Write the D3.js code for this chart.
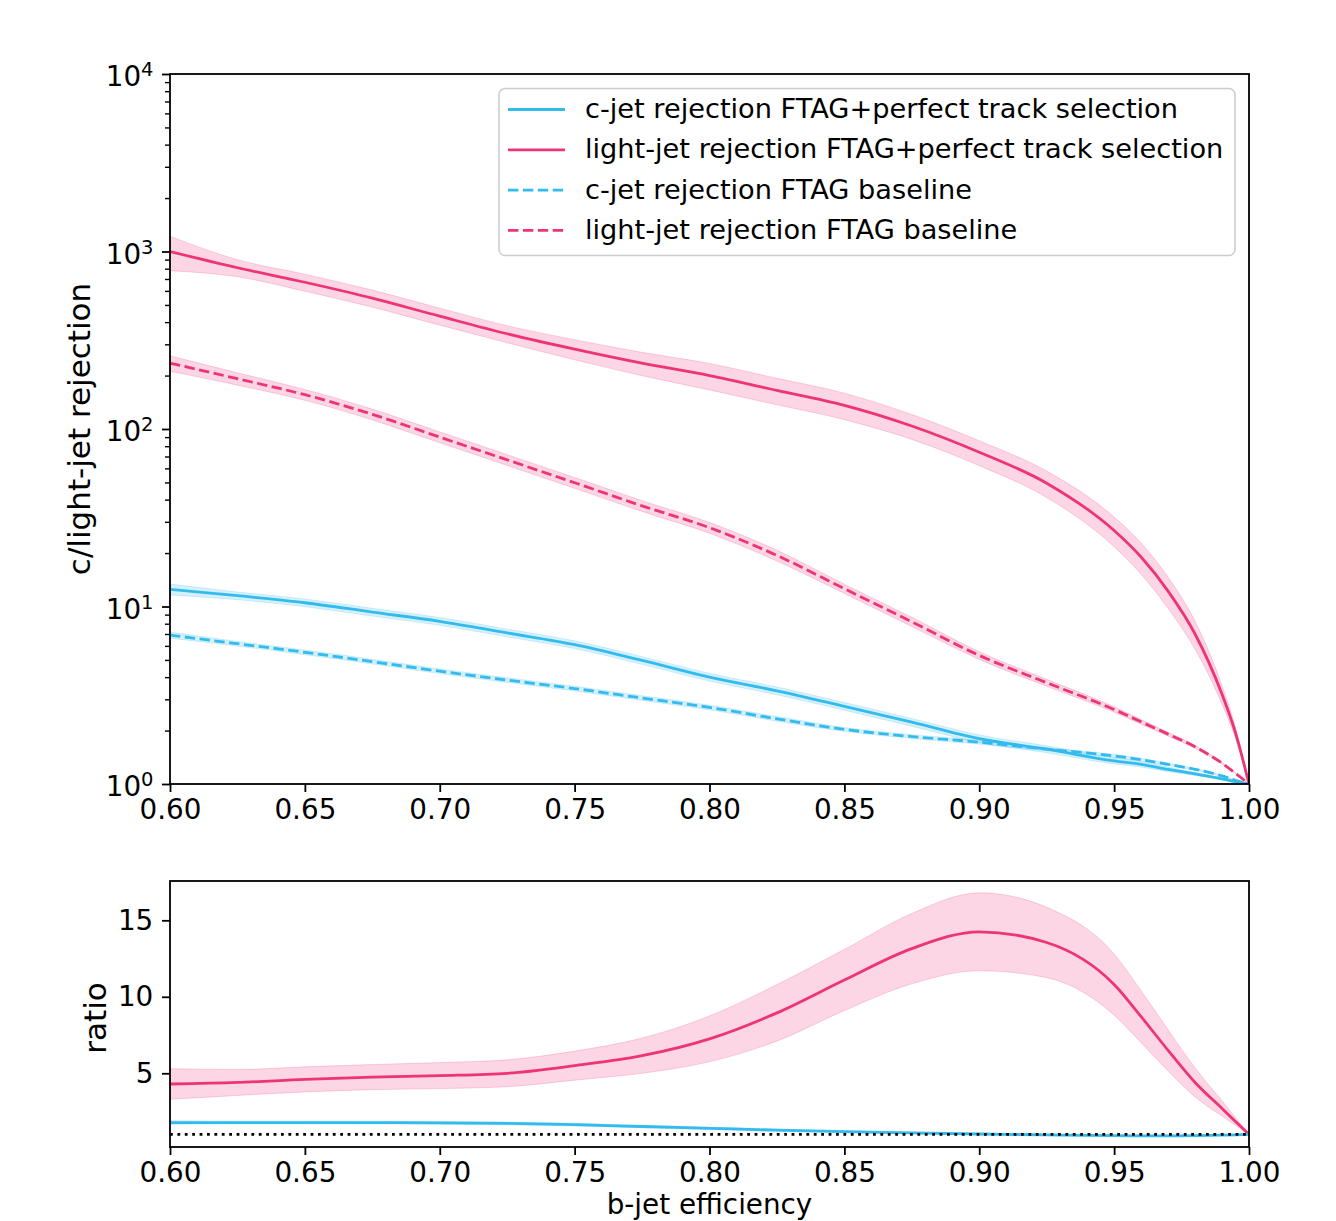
<!DOCTYPE html>
<html>
<head>
<meta charset="utf-8">
<script src="https://cdn.jsdelivr.net/npm/d3@7"></script>
<style>
  body { margin: 0; background: #fff; }
  svg { display: block; }
  text { font-family: "DejaVu Sans", sans-serif; fill: #000; }
</style>
</head>
<body>
<svg id="chart" width="1336" height="1221"></svg>
<script>
// b-jet efficiency working points shared by every curve
const effs = [0.600, 0.625, 0.650, 0.675, 0.700, 0.725, 0.750, 0.775, 0.800, 0.825,
              0.850, 0.875, 0.900, 0.925, 0.950, 0.960, 0.970, 0.980, 0.990, 0.995, 1.000];

// rejections with perfect track selection
const lightPerfect = [1000, 810, 671, 546, 432, 344, 282, 235, 200, 165,
                      136, 104, 74, 49.5, 26.8, 19, 12.2, 7.0, 3.2, 1.94, 1];
const cPerfect = [12.5, 11.5, 10.5, 9.3, 8.25, 7.1, 6.1, 4.97, 4.0, 3.35,
                  2.74, 2.23, 1.80, 1.57, 1.35, 1.29, 1.21, 1.14, 1.07, 1.03, 1];

// rejections of the baseline tagger
const lightBase = [235, 192, 156, 121, 90, 67, 49.8, 36.9, 27.8, 19.4,
                   12.6, 8.2, 5.3, 3.72, 2.63, 2.24, 1.91, 1.62, 1.31, 1.15, 1];
const cBase = [6.9, 6.17, 5.52, 4.89, 4.32, 3.85, 3.45, 3.05, 2.70, 2.33,
               2.03, 1.85, 1.72, 1.57, 1.44, 1.37, 1.29, 1.21, 1.11, 1.05, 1];

// relative statistical uncertainties of the rejections
const lightPerfectErr = [0.22, 0.11, 0.11, 0.11, 0.11, 0.11, 0.13, 0.15, 0.17, 0.17,
                         0.17, 0.16, 0.16, 0.17, 0.19, 0.20, 0.20, 0.18, 0.12, 0.07, 0];
const cPerfectErr = [0.07, 0.05, 0.05, 0.05, 0.05, 0.05, 0.05, 0.05, 0.05, 0.05,
                     0.05, 0.05, 0.05, 0.045, 0.04, 0.035, 0.03, 0.02, 0.012, 0.006, 0];
const lightBaseErr = [0.10, 0.08, 0.07, 0.07, 0.07, 0.07, 0.07, 0.07, 0.07, 0.07,
                      0.06, 0.06, 0.05, 0.045, 0.035, 0.03, 0.025, 0.02, 0.01, 0.005, 0];
const cBaseErr = [0.04, 0.03, 0.03, 0.03, 0.03, 0.03, 0.03, 0.03, 0.03, 0.03,
                  0.025, 0.025, 0.025, 0.02, 0.02, 0.02, 0.015, 0.01, 0.008, 0.004, 0];

// ratio perfect / baseline and its absolute uncertainty
const lightRatio = [4.30, 4.40, 4.60, 4.75, 4.85, 5.00, 5.50, 6.15, 7.25, 8.95,
                    11.1, 13.15, 14.25, 13.55, 10.8, 8.7, 6.5, 4.4, 2.7, 1.85, 1.0];
const lightRatioErr = [1.0, 0.85, 0.82, 0.82, 0.85, 0.88, 0.95, 1.15, 1.5, 1.85,
                       2.0, 2.3, 2.55, 2.3, 2.0, 1.7, 1.35, 0.95, 0.5, 0.25, 0];
const cRatio = [1.78, 1.78, 1.78, 1.77, 1.76, 1.72, 1.64, 1.52, 1.40, 1.28,
                1.18, 1.10, 1.03, 0.97, 0.92, 0.91, 0.91, 0.92, 0.95, 0.97, 1.0];
const cRatioErr = [0.12, 0.09, 0.09, 0.09, 0.09, 0.09, 0.09, 0.08, 0.08, 0.07,
                   0.06, 0.05, 0.05, 0.04, 0.04, 0.03, 0.03, 0.02, 0.01, 0.005, 0];

// axis ticks
const xTicks = [0.60, 0.65, 0.70, 0.75, 0.80, 0.85, 0.90, 0.95, 1.00];
const yTopTicks = [1, 10, 100, 1000, 10000];
const yBotTicks = [5, 10, 15];

const legendLabels = [
  "c-jet rejection FTAG+perfect track selection",
  "light-jet rejection FTAG+perfect track selection",
  "c-jet rejection FTAG baseline",
  "light-jet rejection FTAG baseline"
];

const CYAN = "#33BBEE";
const MAGENTA = "#EE3377";
const LW = 2.8;
const DASH = "10.4 4.5";
const TICK_FONT = 27.8;

const svg = d3.select("#chart");
svg.append("rect").attr("width", 1336).attr("height", 1221).attr("fill", "#fff");

const L = 170, R = 1249;
const topT = 74, topB = 784, botT = 881, botB = 1147;

const x = d3.scaleLinear().domain([0.6, 1.0]).range([L, R]);
const yTop = d3.scaleLog().domain([1, 1e4]).range([topB, topT]);
const yBot = d3.scaleLinear().domain([0.18, 17.57]).range([botB, botT]);

const defs = svg.append("defs");
defs.append("clipPath").attr("id", "clipTop").append("rect")
  .attr("x", L).attr("y", topT).attr("width", R - L).attr("height", topB - topT);
defs.append("clipPath").attr("id", "clipBot").append("rect")
  .attr("x", L).attr("y", botT).attr("width", R - L).attr("height", botB - botT);

function drawSeries(g, yScale, vals, lo, hi, color, dash) {
  const idx = d3.range(effs.length);
  const area = d3.area()
    .x(i => x(effs[i]))
    .y0(i => yScale(lo(i)))
    .y1(i => yScale(hi(i)))
    .curve(d3.curveMonotoneX);
  g.append("path").datum(idx)
    .attr("d", area)
    .attr("fill", color).attr("fill-opacity", 0.2)
    .attr("stroke", color).attr("stroke-opacity", 0.2).attr("stroke-width", 1);
  const line = d3.line()
    .x(i => x(effs[i]))
    .y(i => yScale(vals[i]))
    .curve(d3.curveMonotoneX);
  g.append("path").datum(idx)
    .attr("d", line)
    .attr("fill", "none")
    .attr("stroke", color).attr("stroke-width", LW)
    .attr("stroke-dasharray", dash);
}

// ---------- upper panel: rejections ----------
const gTop = svg.append("g").attr("clip-path", "url(#clipTop)");
const topSeries = [
  [cPerfect, cPerfectErr, CYAN, null],
  [lightPerfect, lightPerfectErr, MAGENTA, null],
  [cBase, cBaseErr, CYAN, DASH],
  [lightBase, lightBaseErr, MAGENTA, DASH]
];
topSeries.forEach(([v, e, c, d]) => {
  drawSeries(gTop, yTop, v, i => v[i] * (1 - e[i]), i => v[i] * (1 + e[i]), c, d);
});

// ---------- lower panel: ratios ----------
const gBot = svg.append("g").attr("clip-path", "url(#clipBot)");
drawSeries(gBot, yBot, lightRatio, i => lightRatio[i] - lightRatioErr[i], i => lightRatio[i] + lightRatioErr[i], MAGENTA, null);
drawSeries(gBot, yBot, cRatio, i => cRatio[i] - cRatioErr[i], i => cRatio[i] + cRatioErr[i], CYAN, null);
gBot.append("line")
  .attr("x1", L).attr("x2", R).attr("y1", yBot(1)).attr("y2", yBot(1))
  .attr("stroke", "#000").attr("stroke-width", LW).attr("stroke-dasharray", "2.8 4.6");

// ---------- axes ----------
function styleAxis(g) {
  g.attr("font-family", null).attr("font-size", null);
  g.select(".domain").remove();
  g.selectAll(".tick line").attr("stroke", "#000").attr("stroke-width", 1.8);
  g.selectAll(".tick text").attr("font-size", TICK_FONT).attr("fill", "#000");
}

const fmtX = d3.format(".2f");
[[topB, 7.3], [botB, 6.8]].forEach(([yPos, pad]) => {
  svg.append("g").attr("transform", `translate(0,${yPos})`)
    .call(d3.axisBottom(x).tickValues(xTicks).tickFormat(fmtX).tickSize(8).tickPadding(pad))
    .call(styleAxis);
});

// log axis: minor ticks
const minorTop = [];
for (let k = 0; k < 4; k++) for (let m = 2; m <= 9; m++) minorTop.push(m * Math.pow(10, k));
svg.append("g").attr("transform", `translate(${L},0)`)
  .call(d3.axisLeft(yTop).tickValues(minorTop).tickFormat("").tickSize(5))
  .call(g => {
    g.select(".domain").remove();
    g.selectAll(".tick line").attr("stroke", "#000").attr("stroke-width", 1.4);
  });

// log axis: major ticks with 10^k labels
svg.append("g").attr("transform", `translate(${L},0)`)
  .call(d3.axisLeft(yTop).tickValues(yTopTicks).tickFormat("").tickSize(8).tickPadding(8.5))
  .call(styleAxis)
  .call(g => g.selectAll(".tick text").each(function (d) {
    const t = d3.select(this).attr("dy", "0.42em");
    t.append("tspan").text("10");
    t.append("tspan").attr("dy", -10).attr("font-size", 19.5).text(Math.round(Math.log10(d)));
  }));

svg.append("g").attr("transform", `translate(${L},0)`)
  .call(d3.axisLeft(yBot).tickValues(yBotTicks).tickFormat(d3.format("d")).tickSize(8).tickPadding(8.7))
  .call(styleAxis);

// frames
[[topT, topB], [botT, botB]].forEach(([t, b]) => {
  svg.append("rect")
    .attr("x", L).attr("y", t).attr("width", R - L).attr("height", b - t)
    .attr("fill", "none").attr("stroke", "#000").attr("stroke-width", 1.8);
});

// axis titles
svg.append("text")
  .attr("transform", "translate(89.5,429) rotate(-90)")
  .attr("text-anchor", "middle").attr("font-size", 31)
  .text("c/light-jet rejection");
svg.append("text")
  .attr("transform", "translate(106,1018) rotate(-90)")
  .attr("text-anchor", "middle").attr("font-size", 31)
  .text("ratio");
svg.append("text")
  .attr("x", (L + R) / 2).attr("y", 1214.2)
  .attr("text-anchor", "middle").attr("font-size", 27.8)
  .text("b-jet efficiency");

// ---------- legend ----------
const lg = svg.append("g");
lg.append("rect")
  .attr("x", 499).attr("y", 88.5).attr("width", 736).attr("height", 167)
  .attr("rx", 6).attr("ry", 6)
  .attr("fill", "#fff").attr("fill-opacity", 0.8)
  .attr("stroke", "#cccccc").attr("stroke-width", 1.5);
const legendStyles = [[CYAN, null], [MAGENTA, null], [CYAN, DASH], [MAGENTA, DASH]];
legendLabels.forEach((label, i) => {
  const yy = 109.5 + i * 40.3;
  lg.append("line")
    .attr("x1", 508).attr("x2", 565).attr("y1", yy).attr("y2", yy)
    .attr("stroke", legendStyles[i][0]).attr("stroke-width", LW)
    .attr("stroke-dasharray", legendStyles[i][1]);
  lg.append("text")
    .attr("x", 585).attr("y", yy + 8.5)
    .attr("font-size", 27.2)
    .text(label);
});
</script>
</body>
</html>
